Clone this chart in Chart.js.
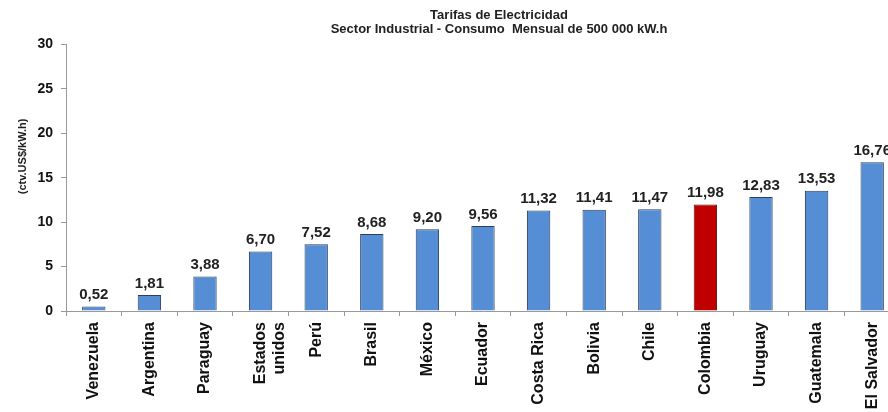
<!DOCTYPE html>
<html>
<head>
<meta charset="utf-8">
<script src="https://cdn.jsdelivr.net/npm/chart.js@4/dist/chart.umd.min.js"></script>
<style>
  html, body { margin: 0; padding: 0; background: #fff; overflow: hidden; }
  #wrap { width: 998px; height: 412px; }
</style>
</head>
<body>
<div id="wrap"><canvas id="myChart"></canvas></div>
<script>
var paises = ['Venezuela', 'Argentina', 'Paraguay', ['Estados', 'unidos'], 'Perú', 'Brasil', 'México',
    'Ecuador', 'Costa Rica', 'Bolivia', 'Chile', 'Colombia', 'Uruguay', 'Guatemala', 'El Salvador'];
var tarifas = [0.52, 1.81, 3.88, 6.70, 7.52, 8.68, 9.20, 9.56, 11.32, 11.41, 11.47, 11.98, 12.83, 13.53, 16.76];
var yTicks = [0, 5, 10, 15, 20, 25, 30];

document.addEventListener('DOMContentLoaded', function () {
    var font = 'Liberation Sans, Arial, sans-serif';

    var colores = paises.map(function (p) { return p === 'Colombia' ? '#C00000' : '#558ED5'; });
    var bordes = paises.map(function (p) { return p === 'Colombia' ? '#5a1010' : '#2a3f5f'; });

    // etiquetas de valor encima de cada barra
    var valores = {
        id: 'valores',
        afterDatasetsDraw: function (chart) {
            var ctx = chart.ctx;
            var meta = chart.getDatasetMeta(0);
            ctx.save();
            ctx.font = 'bold 15px ' + font;
            ctx.fillStyle = '#222';
            ctx.textAlign = 'center';
            ctx.textBaseline = 'bottom';
            meta.data.forEach(function (bar, i) {
                ctx.fillText(tarifas[i].toFixed(2).replace('.', ','), bar.x, bar.y - 4);
            });
            ctx.restore();
        }
    };

    var ctx = document.getElementById('myChart').getContext('2d');
    new Chart(ctx, {
        type: 'bar',
        data: {
            labels: paises,
            datasets: [{
                data: tarifas,
                backgroundColor: colores,
                borderColor: bordes,
                borderWidth: 1,
                categoryPercentage: 1,
                barPercentage: 0.42
            }]
        },
        plugins: [valores],
        options: {
            responsive: true,
            maintainAspectRatio: false,
            animation: false,
            layout: { padding: { top: 2 } },
            plugins: {
                legend: { display: false },
                tooltip: { enabled: false },
                title: {
                    display: true,
                    text: ['Tarifas de Electricidad', 'Sector Industrial - Consumo  Mensual de 500 000 kW.h'],
                    color: '#222',
                    font: { family: font, size: 13, weight: 'bold', lineHeight: 1.1 },
                    padding: { top: 6, bottom: 8 }
                }
            },
            scales: {
                x: {
                    grid: { display: true, drawOnChartArea: false, offset: true, tickLength: 5, color: '#999' },
                    border: { color: '#999' },
                    ticks: {
                        color: '#111',
                        font: { family: font, size: 16, weight: 'bold' },
                        minRotation: 90,
                        maxRotation: 90,
                        autoSkip: false,
                        padding: 6
                    },
                    afterFit: function (s) { s.height = 101; }
                },
                y: {
                    min: 0,
                    max: 30,
                    afterBuildTicks: function (s) { s.ticks = yTicks.map(function (v) { return { value: v }; }); },
                    grid: { display: true, drawOnChartArea: false, tickLength: 5, color: '#999' },
                    border: { color: '#999' },
                    ticks: {
                        color: '#111',
                        font: { family: font, size: 14, weight: 'bold' },
                        padding: 8
                    },
                    title: {
                        display: true,
                        text: '\u00A0'.repeat(14) + '(ctv.US$/kW.h)',
                        color: '#222',
                        font: { family: font, size: 11, weight: 'bold' },
                        padding: { top: 16, bottom: 4 }
                    },
                    afterFit: function (s) { s.width = 66; }
                },
                // eje vacio a la derecha: deja el area de barras cortada como en el original
                y2: {
                    position: 'right',
                    grid: { display: false },
                    border: { display: false },
                    ticks: { display: false },
                    afterFit: function (s) { s.width = 98; }
                }
            }
        }
    });
});
</script>
</body>
</html>
